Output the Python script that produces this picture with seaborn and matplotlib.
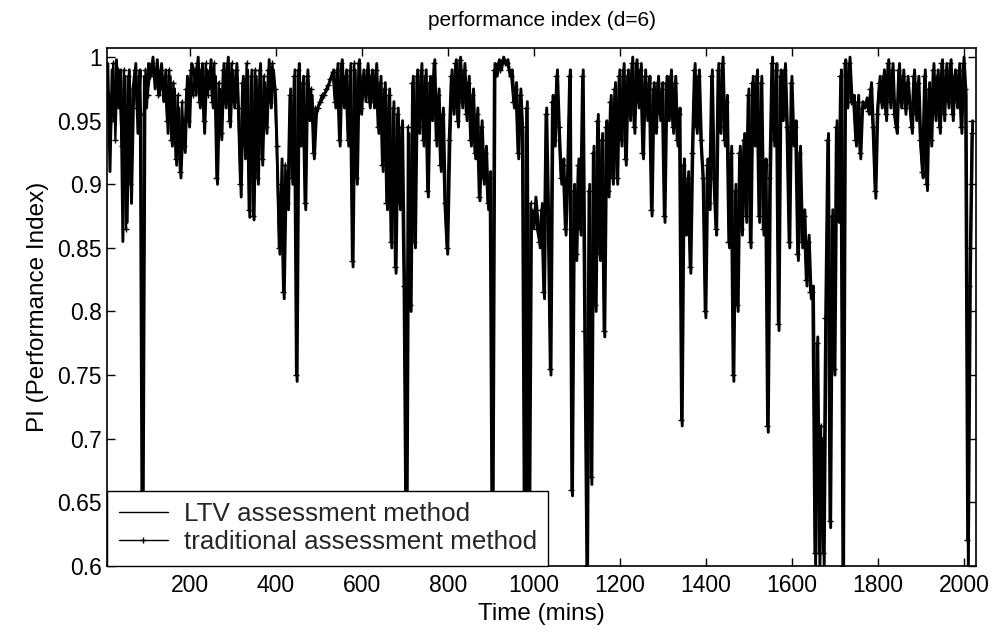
import numpy as np
import pandas as pd
import matplotlib
matplotlib.use("Agg")
import matplotlib.pyplot as plt
import seaborn as sns
from matplotlib.ticker import FixedLocator, FuncFormatter

# ---------------------------------------------------------------------------
# Performance index, sampled every 5 minutes (LTV method starts at t=10,
# the traditional method is sampled half a step later).
# ---------------------------------------------------------------------------
ltv_start, ltv_step = 10.0, 5.0
trad_start, trad_step = 12.5, 5.0

ltv_pi = [
    # 10 - 105
    .995, .91, .99, .95, .998, .96, .99, .855, .985, .87, .99, .885, .97, .995, .94, .99, .59, .985, .96, .995,
    # 110 - 205
    .985, 1.0, .975, .998, .97, .995, .965, .99, .94, .985, .93, .975, .915, .96, .905, .95, .925, .985, .945, .995,
    # 210 - 305
    .99, .97, 1.0, .96, .995, .94, .99, .975, .998, .96, .985, .9, .975, .935, .995, .96, 1.0, .945, .99, .96,
    # 310 - 405
    .995, .95, .89, .985, .92, .99, .874, .99, .872, .985, .9, .995, .915, .98, .94, .998, .96, .99, .97, .905,
    # 410 - 505
    .845, .92, .81, .91, .88, .975, .9, .99, .745, .995, .93, .985, .88, .99, .95, .97, .92, .955, .962, .965,
    # 510 - 605
    .968, .972, .975, .98, .985, .99, .96, .995, .93, .998, .96, .99, .93, .995, .835, .99, .9, .998, .955, .99,
    # 610 - 705
    .965, .995, .96, .99, .96, .995, .94, .985, .91, .98, .88, .975, .85, .965, .83, .96, .88, .95, .815, .59,
    # 710 - 805
    .94, .8, .985, .85, .99, .94, .995, .93, .99, .89, .985, .95, .998, .93, .975, .91, .96, .88, .845, .93,
    # 810 - 905
    .99, .955, .998, .945, 1.0, .96, .995, .95, .985, .93, .975, .92, .96, .887, .95, .9, .93, .88, .91, .59,
    # 910 - 1005
    .995, .985, .998, .99, 1.0, .995, .998, .985, .99, .96, .98, .92, .975, .94, .59, .965, .6, .88, .865, .89,
    # 1010 - 1105
    .87, .85, .885, .81, .96, .87, .75, .97, .93, .99, .94, .9, .92, .86, .91, .99, .655, .9, .84, .92,
    # 1110 - 1205
    .86, .99, .78, .59, .9, .664, .93, .8, .955, .84, .94, .78, .95, .89, .97, .9, .98, .9, .99, .93,
    # 1210 - 1305
    .995, .915, .99, .95, 1.0, .94, .998, .96, .995, .92, .99, .95, .985, .875, .98, .94, .985, .95, .98, .87,
    # 1310 - 1405
    .985, .95, .99, .94, .985, .93, .96, .71, .92, .86, .91, .83, .93, .995, .94, .99, .93, .9, .795, .92,
    # 1410 - 1505
    .88, .99, .9, .86, .995, .94, 1.0, .93, .97, .85, .93, .745, .9, .8, .93, .86, .94, .87, .975, .85,
    # 1510 - 1605
    .985, .93, .99, .87, .985, .86, .92, .705, .9, 1.0, .93, .995, .785, .99, .95, .995, .94, .85, .985, .93,
    # 1610 - 1705
    .95, .84, .93, .85, .88, .82, .86, .81, .82, .6, .78, .6, .7, .6, .8, .94, .63, .88, .75, .95,
    # 1710 - 1805
    .87, .99, .59, .998, .96, 1.0, .965, .97, .93, .97, .92, .965, .96, .968, .955, .98, .94, .889, .96, .985,
    # 1810 - 1905
    .96, .99, .95, .998, .96, .995, .95, .94, .995, .96, .99, .955, .985, .96, .94, .99, .95, .985, .93, .905,
    # 1910 - 2005
    .99, .895, .98, .93, .995, .95, .99, .94, .998, .95, .995, .96, .998, .95, .99, .96, .995, .94, 1.0, .97,
    # 2010 - 2020
    .6, .83, .95,
]

trad_pi = [
    # 12.5 - 107.5
    .97, .95, .995, .935, .99, .975, .93, .99, .865, .985, .9, .975, .99, .96, .985, .955, .6, .99, .97, .985,
    # 112.5 - 207.5
    .995, .985, .99, .97, .99, .975, .985, .95, .99, .935, .98, .92, .97, .91, .965, .93, .975, .95, .99, .97,
    # 212.5 - 307.5
    .985, .995, .965, .99, .95, .995, .97, .99, .965, .995, .905, .98, .94, .99, .965, .995, .95, .995, .965, .99,
    # 312.5 - 407.5
    .96, .9, .98, .93, .995, .88, .985, .875, .99, .905, .99, .92, .985, .945, .99, .965, .995, .975, .93, .85,
    # 412.5 - 507.5
    .9, .815, .915, .885, .97, .905, .985, .75, .99, .935, .98, .885, .985, .955, .975, .925, .96, .96, .965, .97,
    # 512.5 - 607.5
    .97, .975, .978, .983, .988, .965, .99, .935, .995, .965, .985, .935, .99, .84, .995, .905, .995, .96, .985, .97,
    # 612.5 - 707.5
    .99, .965, .985, .965, .99, .945, .98, .915, .975, .885, .97, .855, .96, .835, .955, .885, .945, .82, .6, .945,
    # 712.5 - 807.5
    .805, .98, .855, .985, .945, .99, .935, .985, .895, .98, .955, .995, .935, .97, .915, .955, .885, .85, .935, .985,
    # 812.5 - 907.5
    .96, .995, .95, .998, .965, .99, .955, .98, .935, .97, .925, .955, .89, .945, .905, .925, .885, .905, .6, .99,
    # 912.5 - 1007.5
    .99, .995, .99, .998, .995, .995, .99, .985, .965, .975, .925, .97, .945, .6, .96, .6, .885, .87, .88, .865,
    # 1012.5 - 1107.5
    .855, .88, .815, .955, .875, .755, .965, .935, .985, .945, .905, .915, .865, .905, .985, .66, .895, .845, .915, .865,
    # 1112.5 - 1207.5
    .985, .785, .6, .895, .67, .925, .805, .95, .845, .935, .785, .945, .895, .965, .905, .975, .905, .985, .935, .99,
    # 1212.5 - 1307.5
    .92, .985, .955, .995, .945, .995, .965, .99, .925, .985, .955, .98, .88, .975, .945, .98, .955, .975, .875, .98,
    # 1312.5 - 1407.5
    .955, .985, .945, .98, .935, .955, .715, .915, .865, .905, .835, .925, .99, .945, .985, .935, .905, .8, .915, .885,
    # 1412.5 - 1507.5
    .985, .905, .865, .99, .945, .995, .935, .965, .855, .925, .75, .895, .805, .925, .865, .935, .875, .97, .855, .98,
    # 1512.5 - 1607.5
    .935, .985, .875, .98, .865, .915, .71, .905, .995, .935, .99, .79, .985, .955, .99, .945, .855, .98, .935, .945,
    # 1612.5 - 1707.5
    .845, .925, .855, .875, .825, .855, .815, .815, .61, .775, .61, .71, .61, .795, .935, .635, .875, .755, .945, .875,
    # 1712.5 - 1807.5
    .985, .6, .995, .965, .995, .965, .965, .935, .965, .925, .96, .962, .965, .958, .975, .945, .895, .955, .98, .965,
    # 1812.5 - 1907.5
    .985, .955, .995, .965, .99, .955, .945, .99, .965, .985, .96, .98, .965, .945, .985, .955, .98, .935, .91, .985,
    # 1912.5 - 2007.5
    .9, .975, .935, .99, .955, .985, .945, .995, .955, .99, .965, .995, .955, .985, .965, .99, .945, .995, .975, .62,
    # 2012.5 - 2017.5
    .82, .94,
]

x_ticks = [200, 400, 600, 800, 1000, 1200, 1400, 1600, 1800, 2000]
y_ticks = [0.6, 0.65, 0.7, 0.75, 0.8, 0.85, 0.9, 0.95, 1.0]

ltv_df = pd.DataFrame({
    "time": ltv_start + ltv_step * np.arange(len(ltv_pi)),
    "pi": ltv_pi,
})
trad_df = pd.DataFrame({
    "time": trad_start + trad_step * np.arange(len(trad_pi)),
    "pi": trad_pi,
})

sns.set_theme(style="white")
plt.rcParams["font.family"] = ["Liberation Sans", "DejaVu Sans"]

fig = plt.figure(figsize=(9.95, 6.43), dpi=100)
ax = fig.add_axes([0.1075, 0.12, 0.8735, 0.805])

sns.lineplot(data=ltv_df, x="time", y="pi", ax=ax, color="black",
             linewidth=2.1, sort=False, estimator=None,
             label="LTV assessment method")
sns.lineplot(data=trad_df, x="time", y="pi", ax=ax, color="black",
             linewidth=1.6, marker="+", markersize=5,
             markeredgewidth=1.0, markeredgecolor="black",
             markerfacecolor="black",
             sort=False, estimator=None,
             label="traditional assessment method")

ax.set_xlim(8, 2028)
ax.set_ylim(0.6, 1.007)
ax.xaxis.set_major_locator(FixedLocator(x_ticks))
ax.yaxis.set_major_locator(FixedLocator(y_ticks))
ax.yaxis.set_major_formatter(FuncFormatter(lambda v, _: f"{v:g}"))
ax.xaxis.set_major_formatter(FuncFormatter(lambda v, _: f"{v:g}"))

for side in ("top", "bottom", "left", "right"):
    ax.spines[side].set_visible(True)
    ax.spines[side].set_color("black")
    ax.spines[side].set_linewidth(1.2)

ax.tick_params(axis="both", which="major", direction="in", length=6,
               width=1, colors="black", labelsize=16.5,
               top=True, right=True, bottom=True, left=True)
ax.tick_params(axis="x", pad=6)

ax.set_xlabel("Time (mins)", fontsize=17.5, labelpad=4, color="black")
ax.set_ylabel("PI (Performance Index)", fontsize=17.5, labelpad=6, color="black")
ax.set_title("performance index (d=6)", fontsize=15, pad=16, color="black")

leg = ax.legend(loc="lower left", fontsize=18.7, frameon=True, fancybox=False,
                framealpha=1, edgecolor="black", borderaxespad=0,
                handlelength=1.9, handletextpad=0.6, borderpad=0.45,
                labelspacing=0.15)
leg.get_frame().set_linewidth(1.0)
for handle in leg.get_lines():
    handle.set_linewidth(1.0)
    handle.set_markersize(4)

fig.savefig("out.png", dpi=100, facecolor="white")
